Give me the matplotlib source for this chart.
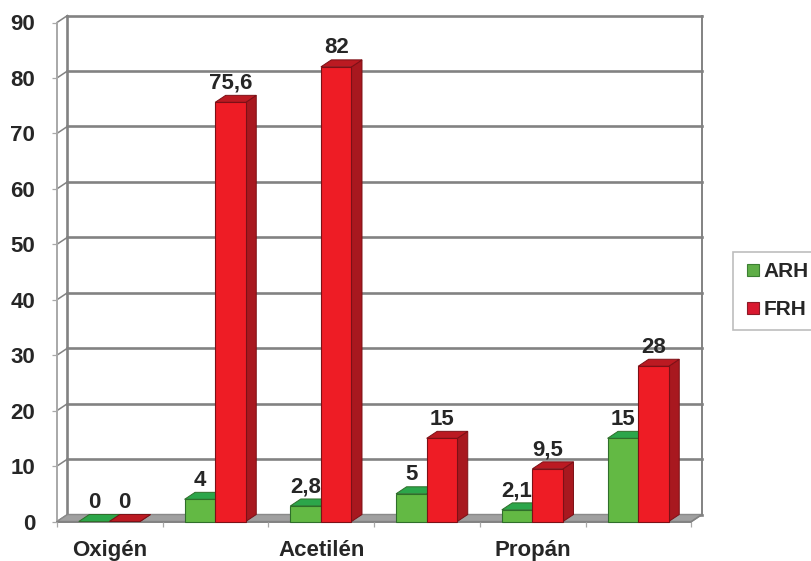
import matplotlib
matplotlib.use("Agg")
import matplotlib.pyplot as plt
from matplotlib.lines import Line2D

plt.rcParams["font.family"] = ["Liberation Sans", "DejaVu Sans"]

categories = ["Oxigén", "", "Acetilén", "", "Propán", ""]
arh_values = [0, 4, 2.8, 5, 2.1, 15]
frh_values = [0, 75.6, 82, 15, 9.5, 28]
y_ticks = list(range(0, 100, 10))

W, H = 812, 561
LEFT, RIGHT, TOP, BOTTOM = 57.0, 691.5, 22.5, 521.5
TEXT = "#262626"
GRID = "#828282"
FONT = 16

fig = plt.figure(figsize=(W / 100, H / 100), dpi=100, facecolor="white")
ax = fig.add_axes([LEFT / W, 1 - BOTTOM / H, (RIGHT - LEFT) / W, (BOTTOM - TOP) / H])
ax.set_xlim(0, len(categories))
ax.set_ylim(0, 90)
ax.patch.set_visible(False)
for spine in ax.spines.values():
    spine.set_visible(False)

# Depth of the pseudo-3D box, expressed in data units
px_x = len(categories) / (RIGHT - LEFT)
px_y = 90 / (BOTTOM - TOP)
DX, DY = 10.5 * px_x, 7 * px_y
BAR_W = 30.6 * px_x
GAP = 21.8 * px_x

n = len(categories)

# Floor
ax.fill([0, n, n + DX, DX], [0, 0, DY, DY], color="#a0a0a0", ec="#8a8a8a", lw=1, clip_on=False, zorder=1)

# Back wall gridlines, left wall diagonals and wall outlines
for v in y_ticks:
    ax.plot([DX, n + DX], [v + DY, v + DY], color=GRID, lw=1.9, clip_on=False, zorder=0.5)
    ax.plot([0, DX], [v, v + DY], color=GRID, lw=1.1, clip_on=False, zorder=0.6)
ax.plot([0, 0], [0, 90], color="#a8a8a8", lw=1.4, clip_on=False, zorder=0.6)
ax.plot([DX, DX], [DY, 90 + DY], color=GRID, lw=1.9, clip_on=False, zorder=0.6)
ax.plot([n + DX, n + DX], [DY, 90 + DY], color=GRID, lw=1.4, clip_on=False, zorder=0.6)
ax.plot([n, n + DX], [0, DY], color=GRID, lw=1.1, clip_on=False, zorder=1.1)
ax.plot([0, n], [0, 0], color=GRID, lw=1.4, clip_on=False, zorder=1.1)


def draw_bar(x0, value, front, top, side, edge, z):
    """One box: side face, top face and front face of a column."""
    x1 = x0 + BAR_W
    ax.fill([x1, x1 + DX, x1 + DX, x1], [0, DY, value + DY, value],
            fc=side, ec=edge, lw=0.7, clip_on=False, zorder=z)
    ax.fill([x0, x1, x1 + DX, x0 + DX], [value, value, value + DY, value + DY],
            fc=top, ec=edge, lw=0.7, clip_on=False, zorder=z)
    if value > 0:
        ax.fill([x0, x1, x1, x0], [0, 0, value, value],
                fc=front, ec=edge, lw=0.8, clip_on=False, zorder=z + 0.1)


def fmt(v):
    return f"{v:g}".replace(".", ",")


for i, (a, f) in enumerate(zip(arh_values, frh_values)):
    xa = i + GAP
    xf = xa + BAR_W
    draw_bar(xa, a, "#63b944", "#2ca64a", "#2b8a3a", "#2f6e2a", 2 + i * 0.01)
    draw_bar(xf, f, "#ee1c25", "#bb1a22", "#a8181f", "#7c1016", 3 + i * 0.01)
    ax.text(xa + BAR_W / 2, a + DY + 0.3, fmt(a), ha="center", va="bottom", fontsize=FONT,
            fontweight="bold", color=TEXT, zorder=5, clip_on=False)
    ax.text(xf + BAR_W / 2, f + DY + 0.3, fmt(f), ha="center", va="bottom", fontsize=FONT,
            fontweight="bold", color=TEXT, zorder=5, clip_on=False)

# Axis ticks and labels
ax.set_yticks(y_ticks)
ax.tick_params(axis="y", length=3.6, width=0.9, color="#a8a8a8", pad=12, labelsize=FONT, labelcolor=TEXT)
for lab in ax.get_yticklabels():
    lab.set_fontweight("bold")
ax.set_xticks([i + 0.5 for i in range(n)])
ax.set_xticklabels(categories, fontsize=FONT, fontweight="bold", color=TEXT)
ax.set_xticks(range(n + 1), minor=True)
ax.tick_params(axis="x", which="major", length=0, pad=13.5)
ax.tick_params(axis="x", which="minor", length=3.6, width=0.9, color="#a8a8a8")

# Legend, whose frame runs past the right edge of the figure
handles = [
    Line2D([], [], ls="none", marker="s", ms=8, mfc="#5fae47", mec="#3c7f33", mew=0.8, label="ARH"),
    Line2D([], [], ls="none", marker="s", ms=8, mfc="#d9182f", mec="#8c1a26", mew=0.8, label="FRH"),
]
leg = fig.legend(handles=handles, loc="upper left", bbox_to_anchor=(733 / W, 1 - 252 / H, 100 / W, 0),
                 mode="expand", borderaxespad=0, frameon=True, fancybox=False, edgecolor="#bdbdbd",
                 framealpha=1, handlelength=0.92, handletextpad=0.05,
                 borderpad=0.5, labelspacing=0.9, prop={"size": 15, "weight": "bold"})
leg.get_frame().set_linewidth(1.2)
for t in leg.get_texts():
    t.set_color(TEXT)

fig.savefig("out.png", dpi=100, facecolor="white")
